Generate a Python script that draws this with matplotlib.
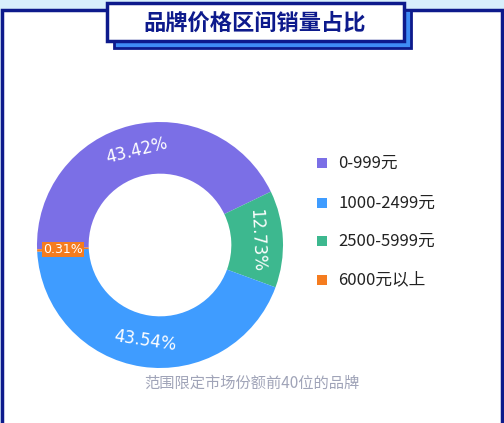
import matplotlib
matplotlib.use("Agg")
import matplotlib.pyplot as plt
from matplotlib.patches import Rectangle
import numpy as np

plt.rcParams['font.family'] = ['Noto Sans CJK SC', 'DejaVu Sans']

categories = ['0-999元', '2500-5999元', '1000-2499元', '6000元以上']
values = [43.42, 12.73, 43.54, 0.31]
colors = ['#7b6fe6', '#3db88f', '#3f9cff', '#f57c1f']
legend_order = [0, 2, 1, 3]
title = '品牌价格区间销量占比'
note = '范围限定市场份额前40位的品牌'

W, H = 504, 423
fig = plt.figure(figsize=(W/100, H/100), dpi=100)
fig.patch.set_facecolor('#d8effc')
bg = fig.add_axes([0, 0, 1, 1]); bg.set_xlim(0, W); bg.set_ylim(H, 0); bg.axis('off')
bg.add_patch(Rectangle((2, 10), 500, 420, facecolor='white', edgecolor='#0d1a8c', lw=2.5))
bg.add_patch(Rectangle((114, 10), 297, 38, facecolor='#3f8cf5', edgecolor='#0d1a8c', lw=2))
bg.add_patch(Rectangle((107, 3), 297, 38, facecolor='white', edgecolor='#0d1a8c', lw=2.5))
bg.text(255, 23, title, ha='center', va='center', fontsize=16, fontweight='bold', color='#0d1a8c')
bg.text(252, 383, note, ha='center', va='center', fontsize=11, color='#a0a4b8')

ax = fig.add_axes([(160-123)/W, 1-(245+123)/H, 246/W, 246/H])
ax.set_aspect('equal')
wedges, _ = ax.pie(values, colors=colors, startangle=182, counterclock=False,
                   radius=1.0, wedgeprops=dict(width=0.42, edgecolor='none'))
ax.set_xlim(-1, 1); ax.set_ylim(-1, 1)
for w, v in zip(wedges, values):
    ang = (w.theta1 + w.theta2) / 2
    r = 0.79
    x, y = r*np.cos(np.radians(ang)), r*np.sin(np.radians(ang))
    if v < 1:
        ax.text(x, y, f'{v:.2f}%', ha='center', va='center',
                color='white', fontsize=9, family=['DejaVu Sans'],
                bbox=dict(boxstyle='square,pad=0.1', fc=colors[3], ec='none'))
        continue
    rot = ang - 90
    if rot < -90: rot += 180
    if rot > 90: rot -= 180
    ax.text(x, y, f'{v:.2f}%', ha='center', va='center', rotation=rot,
            color='white', fontsize=12, family=['DejaVu Sans'])

ys = [163, 203, 241, 280]
for y, i in zip(ys, legend_order):
    bg.add_patch(Rectangle((317, y-5), 10, 10, facecolor=colors[i]))
    bg.text(338, y, categories[i], va='center', ha='left', fontsize=12, color='#222222')

fig.savefig('out.png', dpi=100, facecolor=fig.get_facecolor())
